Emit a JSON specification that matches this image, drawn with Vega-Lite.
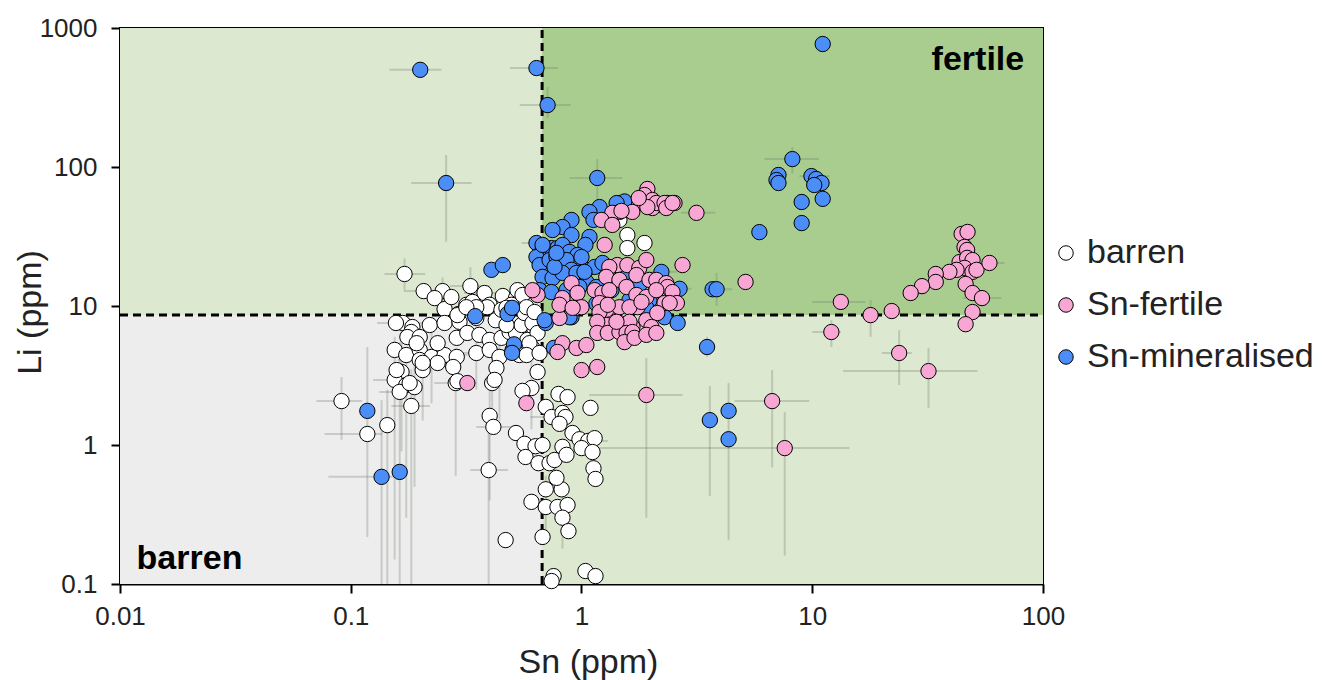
{
"$schema": "https://vega.github.io/schema/vega-lite/v6.json",
"width": 923, "height": 556,
"autosize": {"type": "none"},
"padding": {"left": 120, "top": 28, "right": 279, "bottom": 96},
"background": "white",
"config": {"view": {"stroke": "black", "strokeWidth": 2}, "font": "Liberation Sans"},
"datasets": {
"zones": [
{"zone": "barren", "x1": 0.01, "x2": 0.675, "y1": 0.1, "y2": 8.6},
{"zone": "Li", "x1": 0.01, "x2": 0.675, "y1": 8.6, "y2": 1000},
{"zone": "Sn", "x1": 0.675, "x2": 100, "y1": 0.1, "y2": 8.6},
{"zone": "fertile", "x1": 0.675, "x2": 100, "y1": 8.6, "y2": 1000}
],
"thr": [
{"a": 0.675, "b": 0.675, "c": 0.1, "d": 1000},
{"a": 0.01, "b": 100, "c": 8.6, "d": 8.6}
],
"notes": [
{"label": "fertile", "sn": 32.9, "li": 500},
{"label": "barren", "sn": 0.0118, "li": 0.128}
],
"pts": [
{"g":"barren","sn":0.171,"li":17,"sl":0.14,"sh":0.21,"ll":13,"lh":22},
{"g":"barren","sn":0.207,"li":12.8,"sl":0.17,"sh":0.25},
{"g":"barren","sn":0.25,"li":12.8,"ll":10,"lh":16},
{"g":"barren","sn":0.231,"li":11.4},
{"g":"barren","sn":0.33,"li":13.9,"sl":0.27,"sh":0.4,"ll":10,"lh":19},
{"g":"barren","sn":0.38,"li":12.4,"sl":0.31,"sh":0.47},
{"g":"barren","sn":0.456,"li":11.8},
{"g":"barren","sn":0.40,"li":10.2},
{"g":"barren","sn":0.255,"li":9.5},
{"g":"barren","sn":0.293,"li":8.75},
{"g":"barren","sn":0.317,"li":10.2},
{"g":"barren","sn":0.337,"li":10.7},
{"g":"barren","sn":0.273,"li":11.6},
{"g":"barren","sn":0.168,"li":7.55,"sl":0.13,"sh":0.21},
{"g":"barren","sn":0.185,"li":7.06},
{"g":"barren","sn":0.22,"li":7.3},
{"g":"barren","sn":0.255,"li":7.55},
{"g":"barren","sn":0.296,"li":7.7},
{"g":"barren","sn":0.35,"li":8.2},
{"g":"barren","sn":0.52,"li":11.4},
{"g":"barren","sn":0.183,"li":6.5},
{"g":"barren","sn":0.176,"li":5.98},
{"g":"barren","sn":0.199,"li":5.98},
{"g":"barren","sn":0.29,"li":8.6},
{"g":"barren","sn":0.288,"li":5.9},
{"g":"barren","sn":0.32,"li":6.4},
{"g":"barren","sn":0.361,"li":6.2},
{"g":"barren","sn":0.40,"li":5.7},
{"g":"barren","sn":0.45,"li":5.9},
{"g":"barren","sn":0.488,"li":6.5},
{"g":"barren","sn":0.39,"li":9.8},
{"g":"barren","sn":0.425,"li":7.9},
{"g":"barren","sn":0.155,"li":4.83},
{"g":"barren","sn":0.174,"li":4.44},
{"g":"barren","sn":0.199,"li":4.83},
{"g":"barren","sn":0.224,"li":4.3,"ll":2,"lh":7},
{"g":"barren","sn":0.255,"li":4.44,"sl":0.2,"sh":0.32},
{"g":"barren","sn":0.288,"li":4.3},
{"g":"barren","sn":0.278,"li":3.64},
{"g":"barren","sn":0.238,"li":3.89},
{"g":"barren","sn":0.199,"li":4.09,"sl":0.16,"sh":0.25},
{"g":"barren","sn":0.205,"li":3.46,"ll":1.5,"lh":6},
{"g":"barren","sn":0.35,"li":4.59,"sl":0.28,"sh":0.44,"ll":2.5,"lh":8},
{"g":"barren","sn":0.40,"li":4.83},
{"g":"barren","sn":0.441,"li":4.3,"ll":1.5,"lh":7},
{"g":"barren","sn":0.503,"li":4.83,"sl":0.42,"sh":0.6},
{"g":"barren","sn":0.52,"li":6.4},
{"g":"barren","sn":0.428,"li":3.58},
{"g":"barren","sn":0.166,"li":3.35,"ll":0.9,"lh":7},
{"g":"barren","sn":0.155,"li":2.94,"sl":0.125,"sh":0.19,"ll":0.15,"lh":6},
{"g":"barren","sn":0.174,"li":2.7,"ll":0.3,"lh":5},
{"g":"barren","sn":0.189,"li":2.61,"ll":0.5,"lh":4.5},
{"g":"barren","sn":0.163,"li":2.41,"sl":0.133,"sh":0.2,"ll":0.1,"lh":5.5},
{"g":"barren","sn":0.183,"li":1.91,"sl":0.15,"sh":0.22,"ll":0.1,"lh":3.5},
{"g":"barren","sn":0.285,"li":2.79,"sl":0.23,"sh":0.35,"ll":0.6,"lh":5},
{"g":"barren","sn":0.41,"li":2.79,"ll":1.2,"lh":4.5},
{"g":"barren","sn":0.0912,"li":2.07,"sl":0.071,"sh":0.112,"ll":1.09,"lh":3.08},
{"g":"barren","sn":0.118,"li":1.2,"sl":0.077,"sh":0.137,"ll":0.218,"lh":5.07},
{"g":"barren","sn":0.144,"li":1.39,"ll":0.1,"lh":2.5},
{"g":"barren","sn":0.158,"li":3.46},
{"g":"barren","sn":0.40,"li":1.62,"ll":0.4,"lh":3},
{"g":"barren","sn":0.415,"li":1.35,"sl":0.35,"sh":0.5},
{"g":"barren","sn":0.52,"li":1.22},
{"g":"barren","sn":0.396,"li":0.66,"sl":0.33,"sh":0.48,"ll":0.1,"lh":1.6},
{"g":"barren","sn":0.469,"li":0.207},
{"g":"barren","sn":0.566,"li":1.02},
{"g":"barren","sn":0.632,"li":0.98},
{"g":"barren","sn":0.678,"li":1.0},
{"g":"barren","sn":0.572,"li":0.82},
{"g":"barren","sn":0.651,"li":0.74},
{"g":"barren","sn":0.727,"li":0.74},
{"g":"barren","sn":0.764,"li":0.78},
{"g":"barren","sn":0.607,"li":0.39},
{"g":"barren","sn":0.70,"li":0.358,"ll":0.2,"lh":0.6},
{"g":"barren","sn":0.787,"li":0.358},
{"g":"barren","sn":0.87,"li":0.37},
{"g":"barren","sn":0.827,"li":0.30,"ll":0.18,"lh":0.5},
{"g":"barren","sn":0.878,"li":0.24},
{"g":"barren","sn":0.678,"li":0.218},
{"g":"barren","sn":0.70,"li":0.48},
{"g":"barren","sn":0.82,"li":0.48},
{"g":"barren","sn":0.779,"li":0.58},
{"g":"barren","sn":0.645,"li":3.35},
{"g":"barren","sn":0.607,"li":2.57,"ll":1.3,"lh":4},
{"g":"barren","sn":0.555,"li":2.45},
{"g":"barren","sn":0.795,"li":2.33},
{"g":"barren","sn":0.87,"li":2.21},
{"g":"barren","sn":0.70,"li":1.88},
{"g":"barren","sn":0.742,"li":1.59,"sl":0.6,"sh":0.9},
{"g":"barren","sn":0.827,"li":1.7},
{"g":"barren","sn":0.852,"li":1.59},
{"g":"barren","sn":0.803,"li":1.42},
{"g":"barren","sn":0.914,"li":1.22},
{"g":"barren","sn":0.98,"li":1.1},
{"g":"barren","sn":1.07,"li":1.07,"sl":0.9,"sh":1.3},
{"g":"barren","sn":1.14,"li":1.12},
{"g":"barren","sn":1.0,"li":0.95},
{"g":"barren","sn":1.116,"li":0.89},
{"g":"barren","sn":0.827,"li":0.97},
{"g":"barren","sn":0.861,"li":0.85},
{"g":"barren","sn":1.094,"li":1.85},
{"g":"barren","sn":1.127,"li":0.68},
{"g":"barren","sn":1.15,"li":0.57},
{"g":"barren","sn":0.757,"li":0.114},
{"g":"barren","sn":0.742,"li":0.105},
{"g":"barren","sn":1.04,"li":0.124},
{"g":"barren","sn":1.15,"li":0.114},
{"g":"barren","sn":0.42,"li":2.94},
{"g":"barren","sn":0.29,"li":2.88},
{"g":"barren","sn":0.18,"li":2.79},
{"g":"barren","sn":1.58,"li":32.4},
{"g":"barren","sn":1.58,"li":26.1},
{"g":"barren","sn":1.875,"li":28.4},
{"g":"barren","sn":1.46,"li":41.6},
{"g":"barren","sn":0.497,"li":10.2},
{"g":"barren","sn":0.566,"li":9.4},
{"g":"barren","sn":0.595,"li":7.9},
{"g":"barren","sn":0.55,"li":7.3},
{"g":"barren","sn":0.626,"li":6.7},
{"g":"barren","sn":0.583,"li":5.7},
{"g":"barren","sn":0.612,"li":4.99},
{"g":"barren","sn":0.538,"li":4.44},
{"g":"barren","sn":0.566,"li":8.9},
{"g":"barren","sn":0.613,"li":7.55},
{"g":"barren","sn":0.645,"li":6.4},
{"g":"barren","sn":0.595,"li":5.4},
{"g":"barren","sn":0.578,"li":4.44},
{"g":"barren","sn":0.658,"li":4.59},
{"g":"barren","sn":0.193,"li":5.4},
{"g":"barren","sn":0.238,"li":5.4},
{"g":"barren","sn":0.473,"li":7.3},
{"g":"barren","sn":0.35,"li":9.8},
{"g":"barren","sn":0.317,"li":9.8},
{"g":"barren","sn":0.45,"li":9.4},
{"g":"barren","sn":0.473,"li":9.7},
{"g":"barren","sn":0.528,"li":13.0},
{"g":"barren","sn":0.157,"li":7.55},
{"g":"barren","sn":0.555,"li":12.0},
{"g":"barren","sn":0.578,"li":9.8},
{"g":"barren","sn":0.626,"li":9.05},
{"g":"barren","sn":0.205,"li":3.9},
{"g":"Sn-mineralised","sn":0.2,"li":500,"sl":0.147,"sh":0.247},
{"g":"Sn-mineralised","sn":0.638,"li":515,"sl":0.49,"sh":0.79},
{"g":"Sn-mineralised","sn":0.713,"li":279,"sl":0.54,"sh":0.9,"ll":225,"lh":377},
{"g":"Sn-mineralised","sn":0.259,"li":76.7,"sl":0.183,"sh":0.334,"ll":29,"lh":122},
{"g":"Sn-mineralised","sn":1.17,"li":83.4,"sl":0.89,"sh":1.5,"ll":58,"lh":114},
{"g":"Sn-mineralised","sn":11.1,"li":767},
{"g":"Sn-mineralised","sn":8.2,"li":114,"sl":6.2,"sh":10.7,"ll":90,"lh":139},
{"g":"Sn-mineralised","sn":7.14,"li":87.6},
{"g":"Sn-mineralised","sn":7.0,"li":80.6},
{"g":"Sn-mineralised","sn":7.14,"li":76.7},
{"g":"Sn-mineralised","sn":9.92,"li":86,"sl":8.8,"sh":11.9},
{"g":"Sn-mineralised","sn":10.4,"li":82},
{"g":"Sn-mineralised","sn":10.97,"li":76.7},
{"g":"Sn-mineralised","sn":10.2,"li":74.2},
{"g":"Sn-mineralised","sn":11.1,"li":59},
{"g":"Sn-mineralised","sn":9.0,"li":56},
{"g":"Sn-mineralised","sn":9.0,"li":39.5},
{"g":"Sn-mineralised","sn":5.9,"li":34},
{"g":"Sn-mineralised","sn":3.7,"li":13.2},
{"g":"Sn-mineralised","sn":3.85,"li":13.2,"sl":3.5,"sh":4.5,"ll":10,"lh":17.3},
{"g":"Sn-mineralised","sn":2.66,"li":13.3,"sl":2.4,"sh":3.0},
{"g":"Sn-mineralised","sn":3.5,"li":5.07,"ll":4.3,"lh":6},
{"g":"Sn-mineralised","sn":3.6,"li":1.51,"ll":0.43,"lh":2.66},
{"g":"Sn-mineralised","sn":4.34,"li":1.76,"ll":0.207,"lh":2.79},
{"g":"Sn-mineralised","sn":4.34,"li":1.1},
{"g":"Sn-mineralised","sn":0.118,"li":1.76},
{"g":"Sn-mineralised","sn":0.136,"li":0.59,"sl":0.08,"sh":0.163,"ll":0.1,"lh":2.1},
{"g":"Sn-mineralised","sn":0.163,"li":0.64},
{"g":"Sn-mineralised","sn":0.407,"li":18.2},
{"g":"Sn-mineralised","sn":0.456,"li":19.7},
{"g":"Sn-mineralised","sn":0.346,"li":8.45},
{"g":"Sn-mineralised","sn":0.478,"li":8.75},
{"g":"Sn-mineralised","sn":0.50,"li":9.7},
{"g":"Sn-mineralised","sn":0.51,"li":5.3},
{"g":"Sn-mineralised","sn":0.50,"li":4.6},
{"g":"Sn-mineralised","sn":0.70,"li":7.55},
{"g":"Sn-mineralised","sn":2.22,"li":17.6,"sl":1.9,"sh":2.6},
{"g":"Sn-mineralised","sn":2.29,"li":8.3},
{"g":"Sn-mineralised","sn":2.61,"li":7.55},
{"g":"Sn-mineralised","sn":0.905,"li":8.3},
{"g":"Sn-mineralised","sn":1.197,"li":51.5,"sl":1.0,"sh":1.45},
{"g":"Sn-mineralised","sn":1.083,"li":47.5},
{"g":"Sn-mineralised","sn":1.127,"li":41.6},
{"g":"Sn-mineralised","sn":1.46,"li":55},
{"g":"Sn-mineralised","sn":1.536,"li":56.5},
{"g":"Sn-mineralised","sn":1.42,"li":55},
{"g":"Sn-mineralised","sn":0.905,"li":41.6},
{"g":"Sn-mineralised","sn":0.827,"li":37},
{"g":"Sn-mineralised","sn":0.749,"li":35.2},
{"g":"Sn-mineralised","sn":0.905,"li":32.4},
{"g":"Sn-mineralised","sn":1.083,"li":31.4},
{"g":"Sn-mineralised","sn":1.04,"li":27.5},
{"g":"Sn-mineralised","sn":0.638,"li":28.4,"sl":0.55,"sh":0.75},
{"g":"Sn-mineralised","sn":0.678,"li":25.3},
{"g":"Sn-mineralised","sn":0.74,"li":26.1},
{"g":"Sn-mineralised","sn":0.787,"li":26.1},
{"g":"Sn-mineralised","sn":0.827,"li":27.5},
{"g":"Sn-mineralised","sn":0.887,"li":24.5},
{"g":"Sn-mineralised","sn":0.961,"li":23.3},
{"g":"Sn-mineralised","sn":0.98,"li":20.4},
{"g":"Sn-mineralised","sn":0.638,"li":22.5},
{"g":"Sn-mineralised","sn":0.658,"li":19.7},
{"g":"Sn-mineralised","sn":0.727,"li":21.4},
{"g":"Sn-mineralised","sn":0.779,"li":22.5},
{"g":"Sn-mineralised","sn":0.861,"li":21.4},
{"g":"Sn-mineralised","sn":0.905,"li":18.2},
{"g":"Sn-mineralised","sn":1.05,"li":18.2},
{"g":"Sn-mineralised","sn":1.14,"li":19.1},
{"g":"Sn-mineralised","sn":0.678,"li":16.2},
{"g":"Sn-mineralised","sn":0.749,"li":15.9},
{"g":"Sn-mineralised","sn":0.827,"li":17.3},
{"g":"Sn-mineralised","sn":0.951,"li":17.3},
{"g":"Sn-mineralised","sn":1.05,"li":14.9},
{"g":"Sn-mineralised","sn":1.233,"li":20.4},
{"g":"Sn-mineralised","sn":0.658,"li":13.0},
{"g":"Sn-mineralised","sn":0.74,"li":12.6},
{"g":"Sn-mineralised","sn":0.861,"li":13.0},
{"g":"Sn-mineralised","sn":0.98,"li":13.7},
{"g":"Sn-mineralised","sn":1.16,"li":13.7},
{"g":"Sn-mineralised","sn":1.197,"li":11.0},
{"g":"Sn-mineralised","sn":0.887,"li":8.3},
{"g":"Sn-mineralised","sn":0.692,"li":7.9},
{"g":"Sn-mineralised","sn":2.11,"li":13.0},
{"g":"Sn-mineralised","sn":1.505,"li":16.7},
{"g":"Sn-mineralised","sn":0.764,"li":19.1},
{"g":"Sn-mineralised","sn":0.678,"li":27.5},
{"g":"Sn-mineralised","sn":0.779,"li":24.1},
{"g":"Sn-mineralised","sn":1.0,"li":22.5},
{"g":"Sn-mineralised","sn":1.03,"li":17.6},
{"g":"Sn-mineralised","sn":1.349,"li":13.0},
{"g":"Sn-mineralised","sn":1.614,"li":11.0},
{"g":"Sn-mineralised","sn":1.78,"li":14.2},
{"g":"Sn-mineralised","sn":1.97,"li":11.0},
{"g":"Sn-mineralised","sn":1.16,"li":10.4},
{"g":"Sn-mineralised","sn":1.91,"li":9.7},
{"g":"Sn-mineralised","sn":0.76,"li":5.0},
{"g":"Sn-fertile","sn":1.93,"li":69.5},
{"g":"Sn-fertile","sn":1.875,"li":62.9},
{"g":"Sn-fertile","sn":2.03,"li":57.9},
{"g":"Sn-fertile","sn":1.78,"li":55.1},
{"g":"Sn-fertile","sn":2.18,"li":53.3},
{"g":"Sn-fertile","sn":2.36,"li":55.1},
{"g":"Sn-fertile","sn":2.53,"li":55.1},
{"g":"Sn-fertile","sn":1.66,"li":47.5},
{"g":"Sn-fertile","sn":2.03,"li":50.7},
{"g":"Sn-fertile","sn":1.46,"li":47.5},
{"g":"Sn-fertile","sn":1.36,"li":46.8},
{"g":"Sn-fertile","sn":1.22,"li":41.6},
{"g":"Sn-fertile","sn":1.36,"li":38.3},
{"g":"Sn-fertile","sn":3.15,"li":46.8,"sl":2.7,"sh":3.8},
{"g":"Sn-fertile","sn":2.11,"li":55.1},
{"g":"Sn-fertile","sn":2.29,"li":55.1},
{"g":"Sn-fertile","sn":1.93,"li":51.5},
{"g":"Sn-fertile","sn":2.33,"li":50.7},
{"g":"Sn-fertile","sn":1.49,"li":48.3},
{"g":"Sn-fertile","sn":2.48,"li":55.1},
{"g":"Sn-fertile","sn":1.77,"li":59.8},
{"g":"Sn-fertile","sn":1.26,"li":27.5},
{"g":"Sn-fertile","sn":2.74,"li":19.7},
{"g":"Sn-fertile","sn":1.43,"li":19.7},
{"g":"Sn-fertile","sn":1.32,"li":19.1},
{"g":"Sn-fertile","sn":1.58,"li":19.7},
{"g":"Sn-fertile","sn":1.78,"li":18.8},
{"g":"Sn-fertile","sn":1.91,"li":21.4},
{"g":"Sn-fertile","sn":1.28,"li":16.2},
{"g":"Sn-fertile","sn":1.46,"li":15.4},
{"g":"Sn-fertile","sn":1.73,"li":16.7},
{"g":"Sn-fertile","sn":1.97,"li":15.4},
{"g":"Sn-fertile","sn":2.11,"li":15.4},
{"g":"Sn-fertile","sn":2.33,"li":14.6},
{"g":"Sn-fertile","sn":2.36,"li":13.7},
{"g":"Sn-fertile","sn":0.905,"li":14.6},
{"g":"Sn-fertile","sn":0.961,"li":12.4},
{"g":"Sn-fertile","sn":0.827,"li":11.4},
{"g":"Sn-fertile","sn":1.14,"li":13.0},
{"g":"Sn-fertile","sn":1.233,"li":12.4},
{"g":"Sn-fertile","sn":1.32,"li":13.0},
{"g":"Sn-fertile","sn":1.567,"li":13.7},
{"g":"Sn-fertile","sn":1.73,"li":12.0},
{"g":"Sn-fertile","sn":1.91,"li":11.6},
{"g":"Sn-fertile","sn":2.11,"li":13.0},
{"g":"Sn-fertile","sn":0.645,"li":12.0},
{"g":"Sn-fertile","sn":0.613,"li":13.0},
{"g":"Sn-fertile","sn":2.48,"li":12.6},
{"g":"Sn-fertile","sn":2.29,"li":10.5},
{"g":"Sn-fertile","sn":0.803,"li":8.2},
{"g":"Sn-fertile","sn":0.961,"li":9.7},
{"g":"Sn-fertile","sn":1.197,"li":10.5},
{"g":"Sn-fertile","sn":1.283,"li":9.4},
{"g":"Sn-fertile","sn":1.46,"li":9.8},
{"g":"Sn-fertile","sn":1.75,"li":9.8},
{"g":"Sn-fertile","sn":1.91,"li":7.9},
{"g":"Sn-fertile","sn":2.13,"li":8.9},
{"g":"Sn-fertile","sn":1.283,"li":7.3},
{"g":"Sn-fertile","sn":1.49,"li":7.06},
{"g":"Sn-fertile","sn":1.663,"li":7.06},
{"g":"Sn-fertile","sn":2.01,"li":7.06},
{"g":"Sn-fertile","sn":0.803,"li":10.2},
{"g":"Sn-fertile","sn":1.0,"li":9.8},
{"g":"Sn-fertile","sn":1.197,"li":9.05},
{"g":"Sn-fertile","sn":1.3,"li":10.2},
{"g":"Sn-fertile","sn":1.614,"li":9.8},
{"g":"Sn-fertile","sn":1.82,"li":10.7},
{"g":"Sn-fertile","sn":2.59,"li":10.5},
{"g":"Sn-fertile","sn":1.17,"li":7.7},
{"g":"Sn-fertile","sn":1.46,"li":7.55},
{"g":"Sn-fertile","sn":1.614,"li":7.7},
{"g":"Sn-fertile","sn":1.17,"li":6.4},
{"g":"Sn-fertile","sn":1.3,"li":6.4},
{"g":"Sn-fertile","sn":1.46,"li":6.5},
{"g":"Sn-fertile","sn":1.567,"li":6.4},
{"g":"Sn-fertile","sn":1.663,"li":6.5},
{"g":"Sn-fertile","sn":1.536,"li":5.5},
{"g":"Sn-fertile","sn":1.697,"li":5.9},
{"g":"Sn-fertile","sn":1.91,"li":6.2},
{"g":"Sn-fertile","sn":2.11,"li":6.4},
{"g":"Sn-fertile","sn":0.827,"li":5.4},
{"g":"Sn-fertile","sn":0.951,"li":4.99},
{"g":"Sn-fertile","sn":1.05,"li":5.24},
{"g":"Sn-fertile","sn":0.787,"li":4.67},
{"g":"Sn-fertile","sn":1.0,"li":3.46},
{"g":"Sn-fertile","sn":1.17,"li":3.64},
{"g":"Sn-fertile","sn":1.91,"li":2.29,"sl":1.08,"sh":2.74,"ll":0.3,"lh":4.23},
{"g":"Sn-fertile","sn":0.577,"li":2.0},
{"g":"Sn-fertile","sn":0.32,"li":2.79},
{"g":"Sn-fertile","sn":0.915,"li":9.7},
{"g":"Sn-fertile","sn":1.418,"li":7.7},
{"g":"Sn-fertile","sn":2.41,"li":10.5},
{"g":"Sn-fertile","sn":5.14,"li":14.9},
{"g":"Sn-fertile","sn":13.3,"li":10.7,"sl":10,"sh":17},
{"g":"Sn-fertile","sn":17.9,"li":8.6,"ll":6,"lh":11},
{"g":"Sn-fertile","sn":12.1,"li":6.5,"sl":10,"sh":13.3,"ll":5.07,"lh":7.9},
{"g":"Sn-fertile","sn":44.4,"li":33.0},
{"g":"Sn-fertile","sn":47.1,"li":34.1},
{"g":"Sn-fertile","sn":45.7,"li":26.6},
{"g":"Sn-fertile","sn":46.9,"li":25.3},
{"g":"Sn-fertile","sn":43.5,"li":20.7},
{"g":"Sn-fertile","sn":46.9,"li":22.2},
{"g":"Sn-fertile","sn":49.5,"li":21.4},
{"g":"Sn-fertile","sn":45.7,"li":18.8},
{"g":"Sn-fertile","sn":42.2,"li":18.2},
{"g":"Sn-fertile","sn":39.3,"li":17.6},
{"g":"Sn-fertile","sn":49.5,"li":17.6},
{"g":"Sn-fertile","sn":51.5,"li":18.2},
{"g":"Sn-fertile","sn":58.6,"li":20.4,"sl":48,"sh":68},
{"g":"Sn-fertile","sn":34.3,"li":17.0},
{"g":"Sn-fertile","sn":34.3,"li":14.9},
{"g":"Sn-fertile","sn":29.9,"li":13.9},
{"g":"Sn-fertile","sn":26.7,"li":12.4},
{"g":"Sn-fertile","sn":46.2,"li":14.4},
{"g":"Sn-fertile","sn":49.5,"li":12.4},
{"g":"Sn-fertile","sn":54.4,"li":11.4,"sl":45,"sh":66},
{"g":"Sn-fertile","sn":22.1,"li":9.2},
{"g":"Sn-fertile","sn":49.5,"li":9.05},
{"g":"Sn-fertile","sn":46.2,"li":7.4},
{"g":"Sn-fertile","sn":23.8,"li":4.59,"sl":20,"sh":27,"ll":2.7,"lh":6.7},
{"g":"Sn-fertile","sn":31.9,"li":3.4,"sl":13.6,"sh":52,"ll":1.85,"lh":4.99},
{"g":"Sn-fertile","sn":6.7,"li":2.07,"sl":4.6,"sh":9.7,"ll":0.69,"lh":3.46},
{"g":"Sn-fertile","sn":7.6,"li":0.95,"sl":1.08,"sh":14.5,"ll":0.16,"lh":1.73}
]
},
"layer": [
{
"data": {"name": "zones"},
"mark": {"type": "rect"},
"encoding": {
"x": {"field": "x1", "type": "quantitative",
"scale": {"type": "log", "domain": [0.01, 100], "nice": false},
"axis": {"title": "Sn (ppm)", "values": [0.01, 0.1, 1, 10, 100], "labelExpr": "'' + datum.value", "grid": false, "labelFlush": false, "labelOverlap": false,
"domainColor": "black", "domainWidth": 2, "tickColor": "black", "tickWidth": 2, "tickSize": 9,
"labelFontSize": 26, "labelColor": "#222222", "labelPadding": 10, "labelFont": "Liberation Sans",
"titleFontSize": 34, "titleFontWeight": "normal", "titleColor": "#222222", "titleFont": "Liberation Sans",
"titleX": 468, "titleY": 88, "titleBaseline": "alphabetic", "titleAlign": "center"}},
"x2": {"field": "x2"},
"y": {"field": "y1", "type": "quantitative",
"scale": {"type": "log", "domain": [0.1, 1000], "nice": false},
"axis": {"title": "Li (ppm)", "values": [0.1, 1, 10, 100, 1000], "labelExpr": "'' + datum.value", "grid": false, "labelFlush": false, "labelOverlap": false,
"domainColor": "black", "domainWidth": 2, "tickColor": "black", "tickWidth": 2, "tickSize": 9,
"labelFontSize": 26, "labelColor": "#222222", "labelPadding": 14, "labelFont": "Liberation Sans",
"titleFontSize": 34, "titleFontWeight": "normal", "titleColor": "#222222", "titleFont": "Liberation Sans",
"titleX": -80, "titleY": 284, "titleBaseline": "alphabetic", "titleAlign": "center", "titleAngle": -90}},
"y2": {"field": "y2"},
"color": {"field": "zone", "type": "nominal",
"scale": {"domain": ["barren", "Li", "Sn", "fertile"], "range": ["#ededed", "#dce8d0", "#dce8d0", "#a8cd8e"]},
"legend": null}
}
},
{
"data": {"name": "pts"},
"transform": [{"filter": "isValid(datum.sl)"}],
"mark": {"type": "rule", "color": "#6f7a6a", "opacity": 0.3, "strokeWidth": 2},
"encoding": {
"x": {"field": "sl", "type": "quantitative"},
"x2": {"field": "sh"},
"y": {"field": "li", "type": "quantitative"}
}
},
{
"data": {"name": "pts"},
"transform": [{"filter": "isValid(datum.ll)"}],
"mark": {"type": "rule", "color": "#6f7a6a", "opacity": 0.3, "strokeWidth": 2},
"encoding": {
"x": {"field": "sn", "type": "quantitative"},
"y": {"field": "ll", "type": "quantitative"},
"y2": {"field": "lh"}
}
},
{
"data": {"name": "thr"},
"mark": {"type": "rule", "color": "black", "strokeWidth": 3, "strokeDash": [8, 5]},
"encoding": {
"x": {"field": "a", "type": "quantitative"},
"x2": {"field": "b"},
"y": {"field": "c", "type": "quantitative"},
"y2": {"field": "d"}
}
},
{
"data": {"name": "pts"},
"mark": {"type": "point", "shape": "circle", "filled": true, "stroke": "black", "strokeWidth": 1, "size": 235, "opacity": 1},
"encoding": {
"x": {"field": "sn", "type": "quantitative"},
"y": {"field": "li", "type": "quantitative"},
"fill": {"field": "g", "type": "nominal",
"scale": {"domain": ["barren", "Sn-fertile", "Sn-mineralised"], "range": ["#ffffff", "#f8a6d3", "#4c8ef7"]},
"legend": {"orient": "none", "legendX": 929, "legendY": 208, "title": null, "padding": 0,
"labelFontSize": 34, "labelColor": "#222222", "labelFont": "Liberation Sans", "labelOffset": 4, "labelLimit": 0,
"symbolType": "circle", "symbolSize": 210, "symbolStrokeColor": "black", "symbolStrokeWidth": 1,
"rowPadding": 18, "labelBaseline": "middle"}}
}
},
{
"data": {"name": "notes"},
"mark": {"type": "text", "align": "left", "baseline": "alphabetic", "fontSize": 34, "fontWeight": "bold", "font": "Liberation Sans", "color": "black"},
"encoding": {
"x": {"field": "sn", "type": "quantitative"},
"y": {"field": "li", "type": "quantitative"},
"text": {"field": "label"}
}
}
]
}
